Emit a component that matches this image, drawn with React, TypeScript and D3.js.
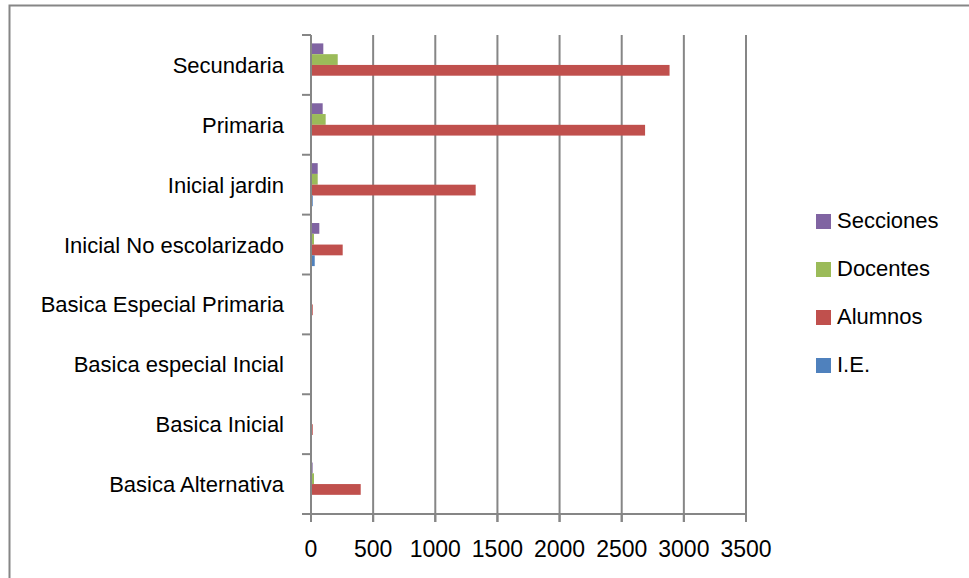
import React, { useEffect, useRef } from 'react';
import * as d3 from 'd3';

// categories listed bottom to top, as they appear on the chart
const categories = [
  'Basica Alternativa',
  'Basica Inicial',
  'Basica especial Incial',
  'Basica Especial Primaria',
  'Inicial No escolarizado',
  'Inicial jardin',
  'Primaria',
  'Secundaria',
];

const ieValues = [2, 1, 1, 2, 30, 14, 8, 5];
const alumnosValues = [400, 14, 1, 14, 255, 1325, 2688, 2885];
const docentesValues = [24, 2, 1, 2, 24, 54, 118, 215];
const seccionesValues = [13, 3, 1, 2, 67, 54, 94, 99];

const seriesNames = ['Secciones', 'Docentes', 'Alumnos', 'I.E.'];
const seriesColors = ['#8064A2', '#9BBB59', '#C0504D', '#4F81BD'];
const xTicks = [0, 500, 1000, 1500, 2000, 2500, 3000, 3500];

function App() {
  const ref = useRef<SVGSVGElement>(null);

  useEffect(() => {
    const svg = d3.select(ref.current);
    svg.selectAll('*').remove();

    const left = 311;
    const right = 746;
    const top = 35;
    const bottom = 514;
    const font = '"Liberation Sans", Arial, sans-serif';
    const grid = '#868686';

    // outer chart frame
    svg.append('rect')
      .attr('x', 9.5)
      .attr('y', 5.5)
      .attr('width', 1000)
      .attr('height', 1000)
      .attr('fill', 'white')
      .attr('stroke', grid)
      .attr('stroke-width', 2);

    const x = d3.scaleLinear().domain([0, 3500]).range([left, right]);
    const y = d3.scaleBand<string>().domain(categories).range([bottom, top]);
    const inner = d3.scaleBand<string>()
      .domain(seriesNames)
      .range([0, y.bandwidth()])
      .paddingOuter(0.78);

    // vertical gridlines
    svg.append('g')
      .selectAll('line')
      .data(xTicks.slice(1))
      .enter().append('line')
      .attr('x1', d => x(d))
      .attr('x2', d => x(d))
      .attr('y1', top)
      .attr('y2', bottom + 8)
      .attr('stroke', grid)
      .attr('stroke-width', 2);

    const values: Record<string, number[]> = {
      'Secciones': seccionesValues,
      'Docentes': docentesValues,
      'Alumnos': alumnosValues,
      'I.E.': ieValues,
    };

    // bars
    seriesNames.forEach((name, si) => {
      svg.append('g')
        .selectAll('rect')
        .data(categories.map((c, i) => ({ c, v: values[name][i] })))
        .enter().append('rect')
        .attr('x', x(0))
        .attr('y', d => (y(d.c) as number) + (inner(name) as number))
        .attr('width', d => x(d.v) - x(0))
        .attr('height', inner.bandwidth())
        .attr('fill', seriesColors[si]);
    });

    // y axis line and category ticks
    svg.append('line')
      .attr('x1', left)
      .attr('x2', left)
      .attr('y1', top)
      .attr('y2', bottom + 8)
      .attr('stroke', grid)
      .attr('stroke-width', 2);
    const yEdges = categories.map(c => y(c) as number).concat([bottom]);
    svg.append('g')
      .selectAll('line')
      .data(yEdges)
      .enter().append('line')
      .attr('x1', left - 9)
      .attr('x2', left)
      .attr('y1', d => d)
      .attr('y2', d => d)
      .attr('stroke', grid)
      .attr('stroke-width', 2);

    // x axis line and ticks
    svg.append('line')
      .attr('x1', left - 9)
      .attr('x2', right)
      .attr('y1', bottom)
      .attr('y2', bottom)
      .attr('stroke', grid)
      .attr('stroke-width', 2);
    svg.append('g')
      .selectAll('line')
      .data(xTicks)
      .enter().append('line')
      .attr('x1', d => x(d))
      .attr('x2', d => x(d))
      .attr('y1', bottom)
      .attr('y2', bottom + 8)
      .attr('stroke', grid)
      .attr('stroke-width', 2);

    svg.append('g')
      .selectAll('text')
      .data(xTicks)
      .enter().append('text')
      .attr('x', d => x(d))
      .attr('y', 557)
      .attr('text-anchor', 'middle')
      .attr('font-family', font)
      .attr('font-size', 23)
      .attr('fill', '#000')
      .text(d => d);

    // category labels
    svg.append('g')
      .selectAll('text')
      .data(categories)
      .enter().append('text')
      .attr('x', 284)
      .attr('y', d => (y(d) as number) + y.bandwidth() / 2 + 8)
      .attr('text-anchor', 'end')
      .attr('font-family', font)
      .attr('font-size', 22)
      .attr('fill', '#000')
      .text(d => d);

    // legend
    const legend = svg.append('g');
    seriesNames.forEach((name, i) => {
      const ly = 214 + i * 48;
      legend.append('rect')
        .attr('x', 816)
        .attr('y', ly)
        .attr('width', 15)
        .attr('height', 15)
        .attr('fill', seriesColors[i]);
      legend.append('text')
        .attr('x', 837)
        .attr('y', ly + 14)
        .attr('font-family', font)
        .attr('font-size', 22)
        .attr('fill', '#000')
        .text(name);
    });
  }, []);

  return (
    <svg
      ref={ref}
      width={969}
      height={578}
      style={{ position: 'absolute', left: 0, top: 0 }}
    />
  );
}

export default App;
